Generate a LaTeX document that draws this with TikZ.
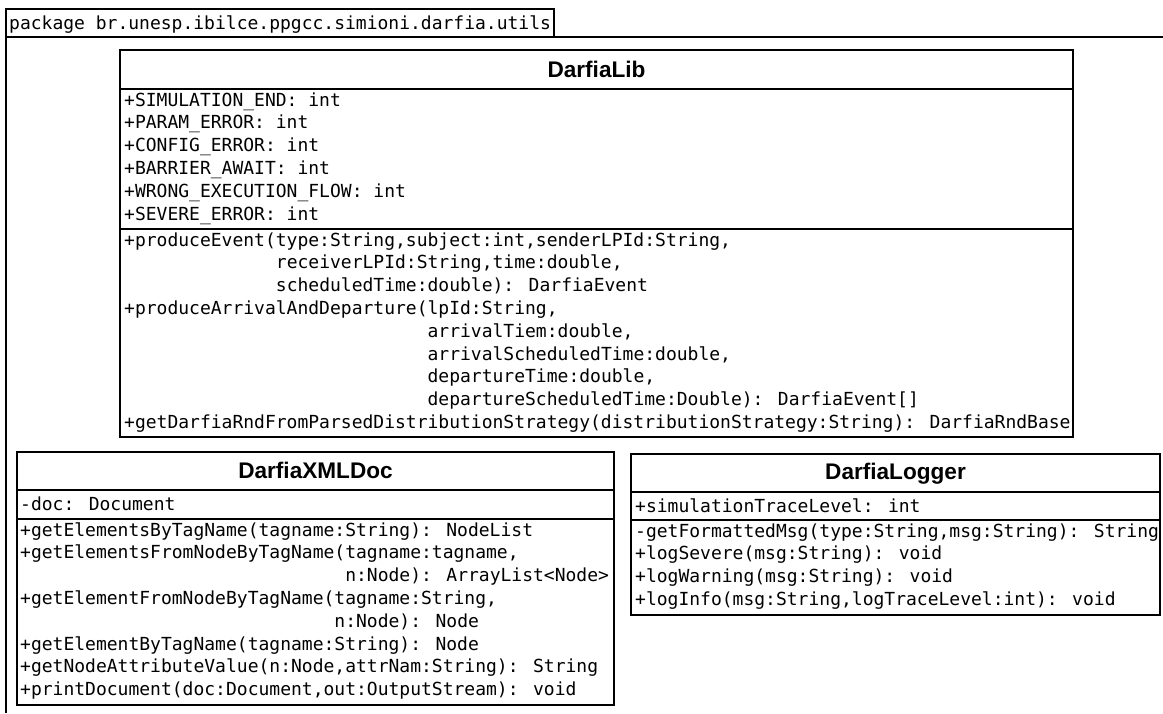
\documentclass[tikz,border=0pt]{standalone}
\usepackage{fontspec}
\newfontfamily\mono{DejaVu Sans Mono}
\newfontfamily\titlefont{Liberation Sans}
\newlength\cw
\setlength\cw{10.837pt}
\newcommand\ind[1]{\hspace*{#1\cw}}
\newcommand\sline{\strut}
\tikzset{
  frameline/.style={line width=2pt},
  classbox/.style={draw, line width=2pt, anchor=north west, inner sep=0pt, outer sep=0pt},
  membertext/.style={anchor=north west, inner sep=0pt, align=left, font=\mono\fontsize{18}{22.8}\selectfont},
  tabtext/.style={anchor=base west, inner sep=0pt, font=\mono\fontsize{18}{22.8}\selectfont},
  titletext/.style={anchor=base, inner sep=0pt, font=\titlefont\bfseries\fontsize{22.6}{25}\selectfont},
}
\begin{document}
\begin{tikzpicture}[x=1pt,y=-1pt]
\fill[white] (0,0) rectangle (1163,713);
\useasboundingbox (0,0) rectangle (1163,713);

% package frame
\node[classbox, minimum width=548pt, minimum height=28pt] (tab) at (6,9) {};
\node[tabtext] (tablabel) at (9,29) {package br.unesp.ibilce.ppgcc.simioni.darfia.utils};
\coordinate (fbl) at (6,713);
\coordinate (ftr) at (1163,37);
\draw[frameline] (fbl) |- (ftr);

% DarfiaLib
\node[classbox, minimum width=953pt, minimum height=39pt] (libhead) at (120,50) {};
\node[classbox, minimum width=953pt, minimum height=140pt] (libattr) at (120,89) {};
\node[classbox, minimum width=953pt, minimum height=208pt] (libops) at (120,229) {};
\node[titletext] (libtitle) at (596.5,77) {DarfiaLib};
\node[membertext] (libattrtext) at (124,90) {%
\sline+SIMULATION\_END: int\\
\sline+PARAM\_ERROR: int\\
\sline+CONFIG\_ERROR: int\\
\sline+BARRIER\_AWAIT: int\\
\sline+WRONG\_EXECUTION\_FLOW: int\\
\sline+SEVERE\_ERROR: int};
\node[membertext] (libopstext) at (124,230) {%
\sline+produceEvent(type:String,subject:int,senderLPId:String,\\
\sline\ind{14}receiverLPId:String,time:double,\\
\sline\ind{14}scheduledTime:double): DarfiaEvent\\
\sline+produceArrivalAndDeparture(lpId:String,\\
\sline\ind{28}arrivalTiem:double,\\
\sline\ind{28}arrivalScheduledTime:double,\\
\sline\ind{28}departureTime:double,\\
\sline\ind{28}departureScheduledTime:Double): DarfiaEvent[]\\
\sline+getDarfiaRndFromParsedDistributionStrategy(distributionStrategy:String): DarfiaRndBase};

% DarfiaXMLDoc
\node[classbox, minimum width=597pt, minimum height=38pt] (xmlhead) at (17,452) {};
\node[classbox, minimum width=597pt, minimum height=29pt] (xmlattr) at (17,490) {};
\node[classbox, minimum width=597pt, minimum height=186pt] (xmlops) at (17,519) {};
\node[titletext] (xmltitle) at (315.5,478) {DarfiaXMLDoc};
\node[membertext] (xmlattrtext) at (20,494) {\sline-doc: Document};
\node[membertext] (xmlopstext) at (20,520) {%
\sline+getElementsByTagName(tagname:String): NodeList\\
\sline+getElementsFromNodeByTagName(tagname:tagname,\\
\sline\ind{30}n:Node): ArrayList<Node>\\
\sline+getElementFromNodeByTagName(tagname:String,\\
\sline\ind{29}n:Node): Node\\
\sline+getElementByTagName(tagname:String): Node\\
\sline+getNodeAttributeValue(n:Node,attrNam:String): String\\
\sline+printDocument(doc:Document,out:OutputStream): void};

% DarfiaLogger
\node[classbox, minimum width=529pt, minimum height=38pt] (loghead) at (631,454) {};
\node[classbox, minimum width=529pt, minimum height=28pt] (logattr) at (631,492) {};
\node[classbox, minimum width=529pt, minimum height=95pt] (logops) at (631,520) {};
\node[titletext] (logtitle) at (895.5,479) {DarfiaLogger};
\node[membertext] (logattrtext) at (635,496) {\sline+simulationTraceLevel: int};
\node[membertext] (logopstext) at (635,521) {%
\sline-getFormattedMsg(type:String,msg:String): String\\
\sline+logSevere(msg:String): void\\
\sline+logWarning(msg:String): void\\
\sline+logInfo(msg:String,logTraceLevel:int): void};
\end{tikzpicture}
\end{document}
